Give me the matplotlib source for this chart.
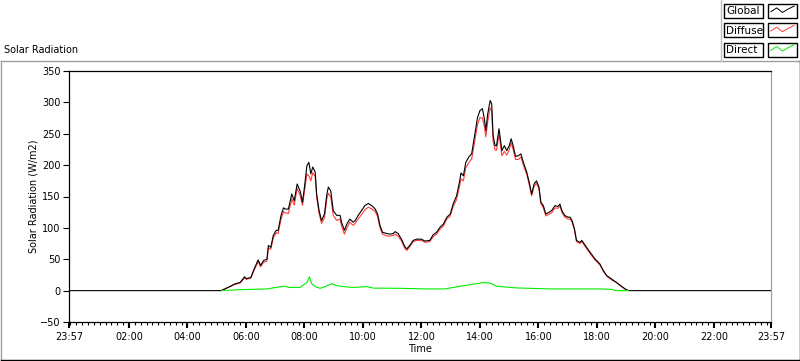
import numpy as np
import matplotlib
matplotlib.use("Agg")
from matplotlib import pyplot as plt
from matplotlib.lines import Line2D
from matplotlib.patches import Rectangle

# readings (W/m2), day runs 23:57 -> 23:57
time_global = ["23:57",
    "05:09", "05:23", "05:38", "05:48", "05:57", "06:01", "06:10", "06:17", "06:25", "06:30",
    "06:36", "06:43", "06:46", "06:51", "06:56", "07:02", "07:06", "07:12", "07:17", "07:20",
    "07:27", "07:34", "07:39", "07:45", "07:51", "07:56", "08:00", "08:05", "08:09", "08:13",
    "08:17", "08:22", "08:25", "08:30", "08:35", "08:41", "08:46", "08:49", "08:54", "08:59",
    "09:06", "09:13", "09:16", "09:22", "09:27", "09:33", "09:40", "09:44", "09:50", "09:57",
    "10:04", "10:11", "10:18", "10:25", "10:30", "10:35", "10:40", "10:49", "10:55", "11:02",
    "11:06", "11:12", "11:19", "11:26", "11:30", "11:36", "11:43", "11:50", "12:00", "12:07",
    "12:17", "12:24", "12:31", "12:38", "12:45", "12:52", "12:59", "13:05", "13:12", "13:18",
    "13:21", "13:26", "13:31", "13:38", "13:43", "13:48", "13:55", "14:00", "14:05", "14:09",
    "14:12", "14:16", "14:21", "14:24", "14:27", "14:31", "14:34", "14:39", "14:41", "14:45",
    "14:50", "14:55", "15:00", "15:04", "15:08", "15:13", "15:19", "15:24", "15:29", "15:36",
    "15:41", "15:46", "15:51", "15:56", "16:01", "16:05", "16:10", "16:15", "16:22", "16:27",
    "16:34", "16:40", "16:44", "16:48", "16:54", "17:01", "17:05", "17:09", "17:14", "17:18",
    "17:25", "17:29", "17:36", "17:46", "17:56", "18:06", "18:13", "18:20", "18:30", "18:40",
    "18:51", "19:01", "19:06",
    "23:57"]

global_rad = [0,
    0, 5, 11, 13, 22, 19, 21, 35, 49, 40,
    48, 50, 72, 69, 88, 96, 96, 120, 132, 130,
    130, 154, 143, 170, 159, 141, 165, 199, 204.5, 186,
    197, 189, 154, 127.5, 111.6, 122, 154, 165, 159, 127.5,
    120, 120, 109, 96, 106, 114, 109, 111.6, 119.6, 127.5,
    135.5, 139, 135.5, 130, 122, 103.6, 93, 91, 90, 91,
    94, 91, 82, 70, 66.5, 72, 80, 82, 82, 79,
    80, 89, 93, 101, 106, 117, 122, 138, 151, 173,
    187.5, 183, 204.5, 214, 218, 242, 276, 287, 290, 274,
    255, 282, 303, 297.6, 247, 231, 231, 258, 247, 223,
    231, 223, 231, 242, 231, 214, 215, 218, 204.5, 188.6,
    172.6, 154, 170, 175, 165, 141, 135.5, 122, 125, 127.5,
    135.5, 134, 138, 127.5, 119.6, 117, 117, 111.6, 98, 80,
    77, 80, 72, 61, 50.5, 42.5, 32, 24, 18.6, 13,
    6.4, 1, 0,
    0]

time_diffuse = time_global[1:-1]
diffuse_rad = [
    0, 5, 10, 12, 20, 18, 20, 33, 46, 38,
    45, 47, 68, 66, 84, 92, 91, 114, 126, 124,
    123, 146, 136, 163, 152, 136, 158, 186, 183, 175,
    188, 182, 149, 123, 107, 116, 147, 155, 149, 120,
    112, 114, 103, 90, 100, 109, 104, 107, 114, 121,
    129, 133, 130, 126, 118, 100, 90, 87, 87, 88,
    90, 87, 79, 67, 64, 70, 78, 80, 80, 77,
    78, 86, 90, 98, 103, 114, 119, 134, 145, 166,
    178, 175, 196, 205, 210, 232, 265, 276, 275, 262,
    245, 270, 291, 287, 238, 224, 224, 248, 239, 215,
    222, 216, 224, 236, 225, 209, 209, 213, 200, 185,
    169, 151, 166, 171, 162, 138, 132, 119, 122, 124,
    132, 131, 135, 125, 117, 114, 114, 109, 96, 78,
    75, 78, 70, 59, 49, 41, 31, 23, 17, 13,
    6, 1, 0]

time_direct = ["05:10", "05:48", "06:43", "07:17", "07:30", "07:51", "08:05", "08:10", "08:15",
               "08:22", "08:32", "08:42", "08:56", "09:06", "09:20", "09:40", "10:08", "10:21",
               "11:16", "12:07", "12:48", "13:12", "13:40", "14:07", "14:21", "14:34", "15:15",
               "16:23", "18:06", "18:31", "18:37", "19:04"]
direct_rad = [0, 1.5, 2.7, 7, 5, 5, 13, 22, 11,
              6.4, 3.7, 6.4, 11, 8, 6.4, 5, 6.4, 4,
              3.7, 2.7, 2.7, 6, 9.6, 12.8, 12, 7, 4.3,
              2.7, 2.7, 2, 0, 0]


def to_min(s):
    h, m = s.split(":")
    return int(h) * 60 + int(m)


xg = [to_min(s) for s in time_global]
xg[0] -= 1440  # starts on previous day
xd = [to_min(s) for s in time_diffuse]
xr = [to_min(s) for s in time_direct]

plt.rcParams['font.family'] = 'DejaVu Sans'
plt.rcParams['font.size'] = 7

W, H = 800, 361
fig = plt.figure(figsize=(W / 100, H / 100), dpi=100)
ax = fig.add_axes([69 / W, 1 - 322 / H, 702 / W, 251 / H])

ax.plot(xd, diffuse_rad, color="#ff3b3b", lw=0.8, zorder=2)
ax.plot(xg, global_rad, color="black", lw=0.8, zorder=3)
ax.plot(xr, direct_rad, color="#00ee00", lw=0.8, zorder=4)

ax.set_xlim(xg[0], xg[-1])
ax.set_ylim(-50, 350)
ax.set_yticks(np.arange(-50, 351, 50))

major = [xg[0]] + list(range(120, 1440, 120)) + [xg[-1]]
labels = ["23:57"] + ["%02d:00" % (m // 60) for m in range(120, 1440, 120)] + ["23:57"]
ax.set_xticks(major)
ax.set_xticklabels(labels)
ax.set_xticks(range(0, 1440, 12), minor=True)
ax.tick_params(axis="x", which="major", length=4, width=1.5, pad=3)
ax.tick_params(axis="x", which="minor", length=2.5, width=0.8)
ax.tick_params(axis="y", length=4, width=0.8, pad=2)

for side in ["left", "top", "bottom"]:
    ax.spines[side].set_color("black")
    ax.spines[side].set_linewidth(0.9)
ax.spines["right"].set_color("#a0a0a0")
ax.spines["right"].set_linewidth(0.9)

ax.set_xlabel("Time", labelpad=2)
fig.text(33 / W, 1 - 196 / H, "Solar Radiation (W/m2)", rotation=90,
         ha="center", va="center")
fig.text(4 / W, 1 - 50 / H, "Solar Radiation", ha="left", va="center")

# outer frame
def px_line(x0, y0, x1, y1, color):
    fig.add_artist(Line2D([x0 / W, x1 / W], [1 - y0 / H, 1 - y1 / H],
                          color=color, lw=1.0, transform=fig.transFigure))

px_line(0.5, 61, 799, 61, "#a0a0a0")
px_line(0.5, 61, 0.5, 360, "#a0a0a0")
px_line(0.5, 359.5, 799.5, 359.5, "black")
px_line(799.5, 61, 799.5, 360, "black")
px_line(720.5, 0, 720.5, 61, "#c0c0c0")

# legend
legend_names = ["Global", "Diffuse", "Direct"]
legend_colors = ["black", "#ff3b3b", "#00ee00"]
zig_x = [0.1, 0.3, 0.5, 0.68, 0.9]
zig_y = [0.45, 0.72, 0.4, 0.62, 0.85]
for i, (name, col) in enumerate(zip(legend_names, legend_colors)):
    top = 4 + i * 19.3
    fig.add_artist(Rectangle((724 / W, 1 - (top + 14) / H), 39 / W, 14 / H,
                             fill=False, ec="black", lw=1.0, transform=fig.transFigure))
    fig.text(726 / W, 1 - (top + 7.5) / H, name, ha="left", va="center", fontsize=7.5)
    fig.add_artist(Rectangle((768 / W, 1 - (top + 14) / H), 29 / W, 14 / H,
                             fill=False, ec="black", lw=1.0, transform=fig.transFigure))
    fig.add_artist(Line2D([(768 + 29 * z) / W for z in zig_x],
                          [1 - (top + 14 - 14 * z) / H for z in zig_y],
                          color=col, lw=0.7, transform=fig.transFigure))

fig.savefig("out.png", dpi=100)
